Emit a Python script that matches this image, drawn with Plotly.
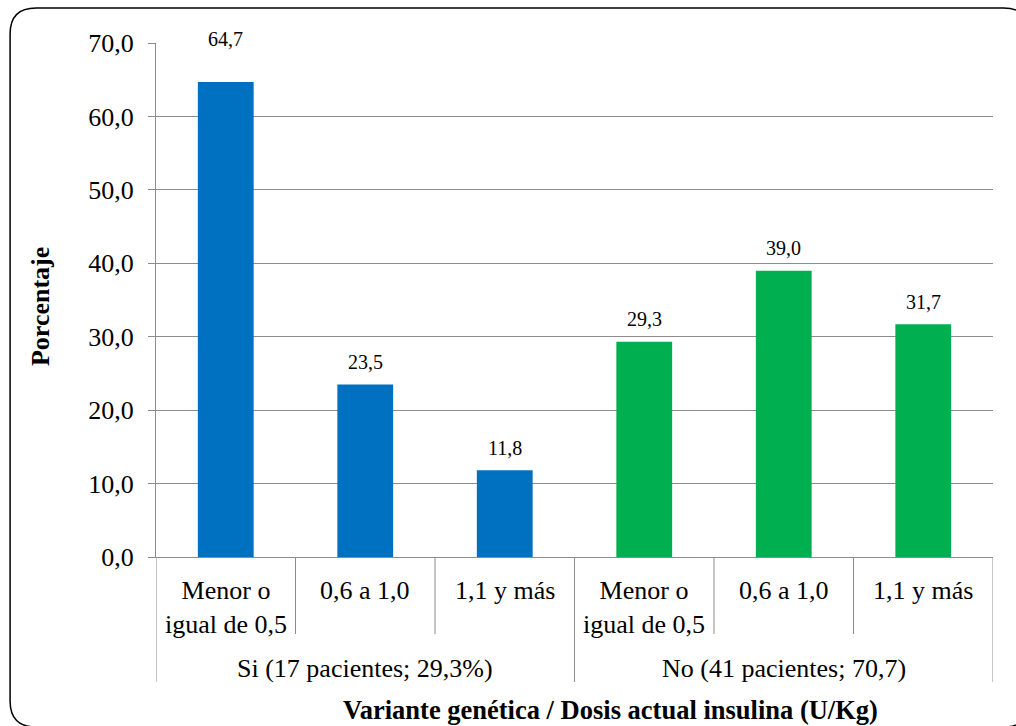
import plotly.graph_objects as go

# Data
groups = ["Si (17 pacientes; 29,3%)", "No (41 pacientes; 70,7)"]
dose_labels = ["Menor o<br>igual de 0,5", "0,6 a 1,0", "1,1 y más"]
si_values = [64.7, 23.5, 11.8]
no_values = [29.3, 39.0, 31.7]
y_ticks = [0, 10, 20, 30, 40, 50, 60, 70]

BLUE = "#0070C0"
GREEN = "#00B050"
GRID = "#8c8c8c"
FONT = "Liberation Serif"

W, H = 1016, 726
L, R, T, B = 156, 22.5, 43, 169
PW, PH = W - L - R, H - T - B

values = si_values + no_values
colors = [BLUE] * len(si_values) + [GREEN] * len(no_values)
xs = list(range(len(values)))
n_per_group = len(dose_labels)


def px_x(px):
    return (px - L) / PW


def px_y(py):
    return (H - B - py) / PH


fig = go.Figure(
    go.Bar(
        x=xs,
        y=values,
        marker=dict(color=colors, line=dict(width=0)),
        width=0.4,
        hoverinfo="skip",
    )
)

annotations = []
# value labels above bars (the tallest one sits up at the top edge)
lift = {0: 43}
for i, v in enumerate(values):
    annotations.append(
        dict(
            x=i, y=v, xref="x", yref="y", text=f"{v:.1f}".replace(".", ","),
            showarrow=False, yanchor="middle", yshift=lift.get(i, 22.5),
            font=dict(family=FONT, size=20, color="black"),
        )
    )

# inner category labels
for i in xs:
    annotations.append(
        dict(
            x=i, y=px_y(574), xref="x", yref="paper",
            text=dose_labels[i % n_per_group], showarrow=False,
            yanchor="top", align="center",
            font=dict(family=FONT, size=26, color="black"),
        )
    )

# group labels
for g, name in enumerate(groups):
    annotations.append(
        dict(
            x=g * n_per_group + (n_per_group - 1) / 2, y=px_y(668),
            xref="x", yref="paper", text=name, showarrow=False,
            yanchor="middle", font=dict(family=FONT, size=26, color="black"),
        )
    )

# axis titles
annotations.append(
    dict(
        x=px_x(611), y=px_y(710), xref="paper", yref="paper",
        text="<b>Variante genética / Dosis actual insulina (U/Kg)</b>",
        showarrow=False, yanchor="middle",
        font=dict(family=FONT, size=26.5, color="black"),
    )
)
annotations.append(
    dict(
        x=px_x(40), y=px_y(307), xref="paper", yref="paper",
        text="<b>Porcentaje</b>", textangle=-90,
        showarrow=False, xanchor="center", yanchor="middle",
        font=dict(family=FONT, size=26, color="black"),
    )
)

shapes = []
# category dividers below the axis
for k in range(len(values) + 1):
    xb = k - 0.5
    is_group_edge = k % n_per_group == 0
    shapes.append(
        dict(
            type="line", xref="x", yref="paper",
            x0=xb, x1=xb, y0=0, y1=px_y(682 if is_group_edge else 634),
            line=dict(color=GRID, width=1),
        )
    )

# rounded outer frame
fl, ft, fr, fb, rad = 10, 8, 1030, 727, 26


def pt(x, y):
    return f"{px_x(x):.5f},{px_y(y):.5f}"


frame_path = (
    f"M {pt(fl + rad, ft)} L {pt(fr - rad, ft)} Q {pt(fr, ft)} {pt(fr, ft + rad)} "
    f"L {pt(fr, fb - rad)} Q {pt(fr, fb)} {pt(fr - rad, fb)} "
    f"L {pt(fl + rad, fb)} Q {pt(fl, fb)} {pt(fl, fb - rad)} "
    f"L {pt(fl, ft + rad)} Q {pt(fl, ft)} {pt(fl + rad, ft)} Z"
)
shapes.append(
    dict(type="path", xref="paper", yref="paper", path=frame_path,
         line=dict(color="black", width=1.5), layer="above")
)

fig.update_layout(
    width=W, height=H,
    margin=dict(l=L, r=R, t=T, b=B),
    paper_bgcolor="white", plot_bgcolor="white",
    separators=",.",
    showlegend=False,
    font=dict(family=FONT, color="black"),
    annotations=annotations,
    shapes=shapes,
    xaxis=dict(
        range=[-0.5, len(values) - 0.5], showticklabels=False, ticks="",
        showgrid=False, zeroline=False, showline=True, linecolor=GRID,
        linewidth=1, fixedrange=True,
    ),
    yaxis=dict(
        range=[0, 70], tickvals=y_ticks, tickformat=".1f",
        showgrid=True, gridcolor=GRID, gridwidth=1, zeroline=False,
        showline=True, linecolor=GRID, linewidth=1,
        ticks="outside", ticklen=7, tickcolor=GRID, ticklabelstandoff=9,
        tickfont=dict(family=FONT, size=26, color="black"),
        fixedrange=True,
    ),
)

fig.write_html("out.html")
